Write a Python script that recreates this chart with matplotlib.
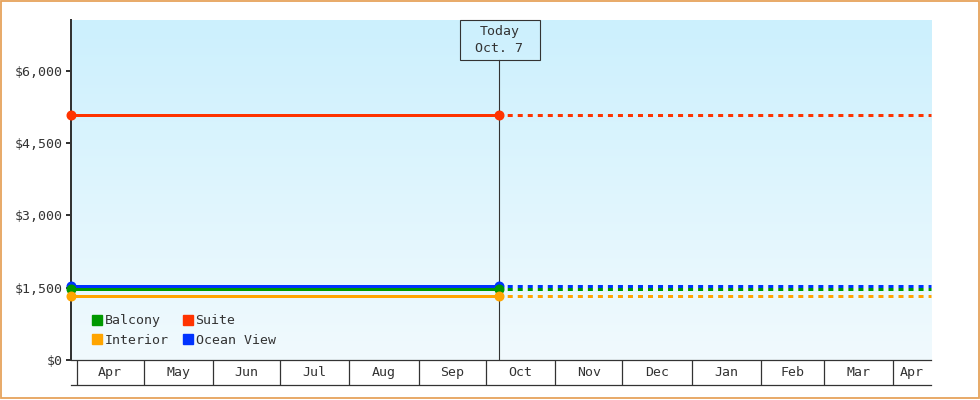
import numpy as np
import matplotlib
matplotlib.use("Agg")
import matplotlib.pyplot as plt
import matplotlib.dates as mdates
import matplotlib.transforms as mtransforms
from matplotlib.patches import Rectangle
from matplotlib.lines import Line2D

# ---- data ----
series_names = ["Balcony", "Suite", "Interior", "Ocean View"]
series_prices = [1480, 5070, 1330, 1540]
series_colors = ["#009900", "#ff3300", "#ffa500", "#0033ff"]
draw_order = [3, 0, 2, 1]
start_date = "2024-03-29 12:00"
today_date = "2024-10-07"
end_date = "2025-04-18"
today_label = "Today\nOct. 7"
y_ticks = [0, 1500, 3000, 4500, 6000]
y_tick_labels = ["$0", "$1,500", "$3,000", "$4,500", "$6,000"]
y_max = 7050
month_starts = ["2024-04-01", "2024-05-01", "2024-06-01", "2024-07-01", "2024-08-01",
                "2024-09-01", "2024-10-01", "2024-11-01", "2024-12-01", "2025-01-01",
                "2025-02-01", "2025-03-01", "2025-04-01"]
month_labels = ["Apr", "May", "Jun", "Jul", "Aug", "Sep", "Oct", "Nov", "Dec",
                "Jan", "Feb", "Mar", "Apr"]

FONT = "DejaVu Sans Mono"
FS = 9.5
TXT = "#333333"
plt.rcParams["font.family"] = [FONT]

W, H = 980, 400
fig = plt.figure(figsize=(W / 100, H / 100), dpi=100)
L, R, T, B = 71, 931, 20, 360
rect = [L / W, 1 - B / H, (R - L) / W, (B - T) / H]

# gradient background
bg = fig.add_axes(rect, zorder=0)
grad = np.linspace(0, 1, 256).reshape(-1, 1)
top_c = np.array([204, 240, 253]) / 255
bot_c = np.array([241, 250, 254]) / 255
img = top_c[None, None, :] * (1 - grad[:, :, None]) + bot_c[None, None, :] * grad[:, :, None]
bg.imshow(img, aspect="auto", extent=[0, 1, 0, 1])
bg.axis("off")

ax = fig.add_axes(rect, zorder=1)
ax.set_facecolor("none")

x0 = mdates.datestr2num(start_date)
xt = mdates.datestr2num(today_date)
x1 = mdates.datestr2num(end_date)

lw = 3 * 0.72
for k, i in enumerate(draw_order):
    price, col = series_prices[i], series_colors[i]
    ax.plot([x0, xt], [price, price], color=col, lw=lw, solid_capstyle="butt",
            marker="o", markersize=6.2, clip_on=False, zorder=3 + k * 0.1)
    ax.plot([xt, x1], [price, price], color=col, lw=lw, linestyle=(0.6, (1.67, 1.67)),
            dash_capstyle="butt", clip_on=False, zorder=3 + k * 0.1)

ax.set_xlim(x0, x1)
ax.set_ylim(0, y_max)
ax.set_yticks(y_ticks)
ax.set_yticklabels(y_tick_labels)
ax.tick_params(axis="y", length=3.6, width=1.44, color=TXT, labelcolor=TXT,
               labelsize=FS, pad=2)
ax.tick_params(axis="x", bottom=False, labelbottom=False)
for s in ["top", "right", "bottom"]:
    ax.spines[s].set_visible(False)
ax.spines["left"].set_linewidth(1.44)
ax.spines["left"].set_color(TXT)

# today marker line and box
box_h = 40
ax.axvline(xt, ymin=0, ymax=1 - box_h / (B - T), color=TXT, lw=0.8, zorder=2)
blend = mtransforms.blended_transform_factory(ax.transData, ax.transAxes)
off = mtransforms.ScaledTranslation(xt, 1.0, blend)
box_tr = mtransforms.Affine2D().translate(-39.5, -box_h) + off
ax.add_patch(Rectangle((0, 0), 80, box_h, transform=box_tr, fill=False,
                       ec=TXT, lw=0.8, clip_on=False, zorder=4))
ax.text(xt, 1 - (box_h / 2) / (B - T), today_label, transform=blend, ha="center",
        va="center", fontsize=FS, color=TXT, linespacing=1.38, zorder=5)

# legend
order = [0, 2, 1, 3]
handles = [Line2D([], [], marker="s", linestyle="none", markersize=7.6,
                  color=series_colors[i], label=series_names[i]) for i in order]
leg = ax.legend(handles=handles, ncol=2, loc="lower left",
                bbox_to_anchor=((93 - L - 1) / (R - L), (B - 347) / (B - T)),
                frameon=False, fontsize=FS, handlelength=0.8, handletextpad=0.2,
                columnspacing=1.0, labelspacing=0.5, borderpad=0, borderaxespad=0)
for t in leg.get_texts():
    t.set_color(TXT)

# month band
band = fig.add_axes([L / W, 1 - 385 / H, (R - L) / W, 25 / H], zorder=1, sharex=ax)
band.set_facecolor("none")
band.set_ylim(0, 1)
band.set_yticks([])
band.tick_params(axis="x", bottom=False, labelbottom=False)
for s in ["left", "right"]:
    band.spines[s].set_visible(False)
for s in ["top", "bottom"]:
    band.spines[s].set_linewidth(0.9)
    band.spines[s].set_color(TXT)
ms = [mdates.datestr2num(d) for d in month_starts]
edges = ms + [x1]
for i, lab in enumerate(month_labels):
    a = max(edges[i], x0)
    b = min(edges[i + 1], x1)
    band.axvline(edges[i], color=TXT, lw=0.9)
    band.text((a + b) / 2, 0.5, lab, ha="center", va="center", fontsize=FS, color=TXT)

# outer border
fig.patches.append(Rectangle((0.75 / W, 1.75 / H), 978.5 / W, 397.5 / H,
                             transform=fig.transFigure, fill=False, ec="#e6a35c", lw=1.3))

fig.savefig("out.png", dpi=100)
